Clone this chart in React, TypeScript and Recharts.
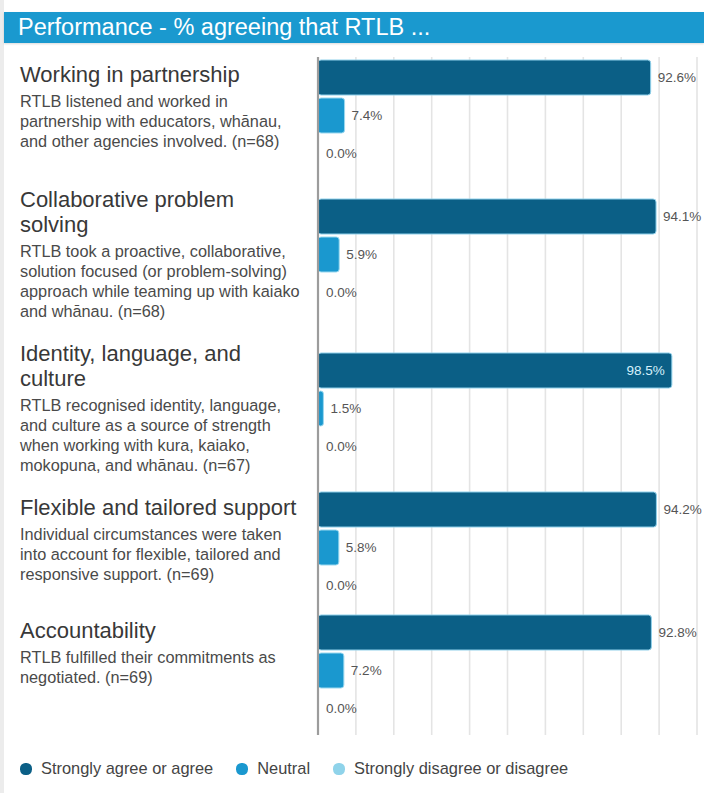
import React from "react";
import {
  BarChart,
  Bar,
  XAxis,
  YAxis,
  CartesianGrid,
  Legend,
  LabelList,
  ReferenceLine,
} from "recharts";

const titles = [
  "Working in partnership",
  "Collaborative problem\nsolving",
  "Identity, language, and\nculture",
  "Flexible and tailored support",
  "Accountability",
];

const descriptions = [
  "RTLB listened and worked in\npartnership with educators, whānau,\nand other agencies involved. (n=68)",
  "RTLB took a proactive, collaborative,\nsolution focused (or problem-solving)\napproach while teaming up with kaiako\nand whānau. (n=68)",
  "RTLB recognised identity, language,\nand culture as a source of strength\nwhen working with kura, kaiako,\nmokopuna, and whānau. (n=67)",
  "Individual circumstances were taken\ninto account for flexible, tailored and\nresponsive support. (n=69)",
  "RTLB fulfilled their commitments as\nnegotiated. (n=69)",
];

const agree = [92.6, 94.1, 98.5, 94.2, 92.8];
const neutral = [7.4, 5.9, 1.5, 5.8, 7.2];
const disagree = [0.0, 0.0, 0.0, 0.0, 0.0];

const seriesNames = [
  "Strongly agree or agree",
  "Neutral",
  "Strongly disagree or disagree",
];

const gridTicks = [10.55, 21.1, 31.65, 42.2, 52.75, 63.3, 73.85, 84.4, 94.95, 105.5];

// layout per row (px)
const rowHeights = [139, 154, 139, 123, 123];
const textOffsets = [5, -9, -9, 6, 6];
const LEGEND_H = 60;

const COLORS = ["#0b5f86", "#1a98cf", "#8fd3ea"];
const FONT = "'Liberation Sans', Arial, sans-serif";
const W = 704;

const renderLabel = (props: any) => {
  const { x, y, width, height, value } = props;
  const text = `${Number(value).toFixed(1)}%`;
  const end = Number(x) + Number(width);
  const cy = Number(y) + Number(height) / 2;
  if (end + 46 > W) {
    return (
      <text x={end - 7} y={cy} dy={4.5} textAnchor="end" fontSize={13.5} fontFamily={FONT} fill="#d6f1fb">
        {text}
      </text>
    );
  }
  return (
    <text x={end + 7} y={cy} dy={4.5} textAnchor="start" fontSize={13.5} fontFamily={FONT} fill="#555">
      {text}
    </text>
  );
};

const renderLegend = (props: any) => {
  const items = [...(props.payload || [])].sort(
    (a: any, b: any) => seriesNames.indexOf(a.value) - seriesNames.indexOf(b.value),
  );
  return (
    <div
      style={{
        display: "flex",
        alignItems: "center",
        paddingTop: 24,
        paddingLeft: 20,
        fontFamily: FONT,
        fontSize: 16.4,
        color: "#444",
      }}
    >
      {items.map((e: any) => (
        <span key={e.value} style={{ display: "flex", alignItems: "center", marginRight: 23 }}>
          <span
            style={{
              width: 12,
              height: 12,
              borderRadius: "45%",
              background: e.color,
              marginRight: 9,
              display: "inline-block",
            }}
          />
          {e.value}
        </span>
      ))}
    </div>
  );
};

const emptyTick = () => <g />;

function Row({ i }: { i: number }) {
  const last = i === titles.length - 1;
  const h = rowHeights[i];
  const data = [{ name: titles[i], agree: agree[i], neutral: neutral[i], disagree: disagree[i] }];
  return (
    <div style={{ position: "relative", height: last ? h + LEGEND_H : h }}>
      <BarChart
        width={W}
        height={last ? h + LEGEND_H : h}
        data={data}
        layout="vertical"
        margin={{ top: 0, right: 7, bottom: 0, left: 318 }}
        barSize={35}
        barGap={3}
      >
        <CartesianGrid horizontal={false} stroke="#e4e4e4" strokeWidth={1.6} />
        <XAxis
          type="number"
          domain={[0, 105.5]}
          ticks={gridTicks}
          interval={0}
          height={0}
          tick={emptyTick}
          tickLine={false}
          axisLine={false}
        />
        <YAxis
          type="category"
          dataKey="name"
          width={0}
          tick={false}
          tickLine={false}
          axisLine={false}
          padding={{ top: 0, bottom: h - 117 }}
        />
        <Bar dataKey="agree" name={seriesNames[0]} fill={COLORS[0]} stroke="#8fd0ea" strokeWidth={1} radius={3} isAnimationActive={false}>
          <LabelList dataKey="agree" content={renderLabel} />
        </Bar>
        <Bar dataKey="neutral" name={seriesNames[1]} fill={COLORS[1]} stroke="#9ad8ef" strokeWidth={1} radius={3} isAnimationActive={false}>
          <LabelList dataKey="neutral" content={renderLabel} />
        </Bar>
        <Bar dataKey="disagree" name={seriesNames[2]} fill={COLORS[2]} minPointSize={1} isAnimationActive={false}>
          <LabelList dataKey="disagree" content={renderLabel} />
        </Bar>
        <ReferenceLine x={0} stroke="#9c9c9c" strokeWidth={2.2} />
        {last && (
          <Legend
            verticalAlign="bottom"
            align="left"
            content={renderLegend}
            wrapperStyle={{ left: 0, width: W, height: LEGEND_H }}
          />
        )}
      </BarChart>
      <div
        style={{
          position: "absolute",
          left: 20,
          top: textOffsets[i],
          width: 298,
          fontFamily: FONT,
        }}
      >
        <div style={{ fontSize: 22, lineHeight: "25px", color: "#383838", whiteSpace: "pre-line" }}>{titles[i]}</div>
        <div style={{ fontSize: 16.3, lineHeight: "20px", color: "#4a4a4a", whiteSpace: "pre-line", marginTop: 4 }}>
          {descriptions[i]}
        </div>
      </div>
    </div>
  );
}

export default function App() {
  return (
    <div style={{ position: "relative", width: W, height: 793, background: "#fff", overflow: "hidden" }}>
      <style>{`body{margin:0}`}</style>
      <div style={{ position: "absolute", left: 0, top: 0, width: 4, height: 793, background: "#ececec" }} />
      <div
        style={{
          position: "absolute",
          left: 4,
          top: 12,
          width: 700,
          height: 31,
          background: "#1a99cf",
          boxShadow: "0 1px 2px rgba(0,0,0,0.15)",
          color: "#fff",
          fontFamily: FONT,
          fontSize: 23.5,
          lineHeight: "31px",
          paddingLeft: 14,
          boxSizing: "border-box",
        }}
      >
        Performance - % agreeing that RTLB ...
      </div>
      <div style={{ position: "absolute", left: 0, top: 57, width: W }}>
        {titles.map((_, i) => (
          <Row key={i} i={i} />
        ))}
      </div>
    </div>
  );
}
